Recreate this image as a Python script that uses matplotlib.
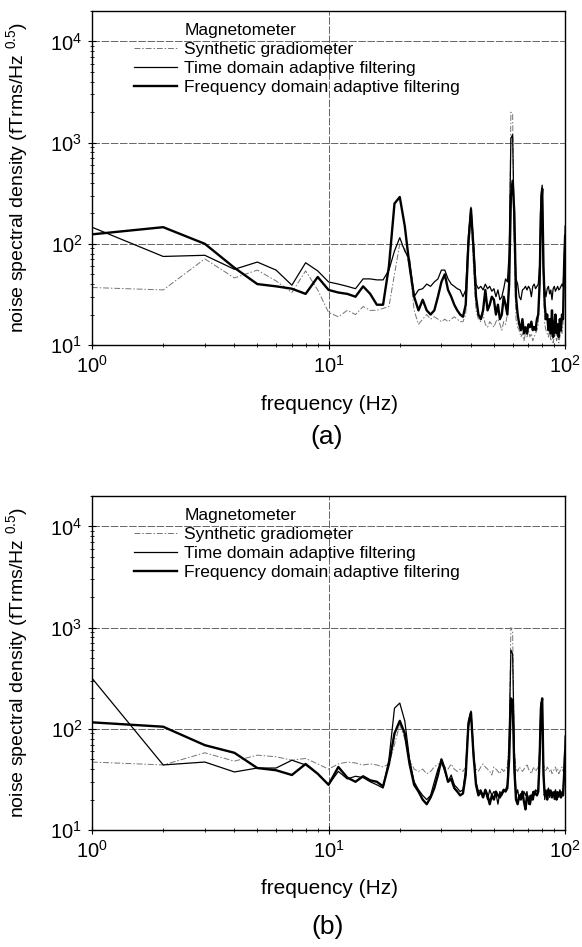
import numpy as np
import matplotlib
matplotlib.use("Agg")
import matplotlib.pyplot as plt

plt.rcParams['font.family'] = ['Liberation Sans', 'DejaVu Sans']
plt.rcParams['mathtext.fontset'] = 'custom'
plt.rcParams['mathtext.rm'] = 'Liberation Sans'
plt.rcParams['mathtext.it'] = 'Liberation Sans'

# frequência em Hz (resolução de 1 Hz)
freq = np.arange(1, 101)

# painel (a)
grad_a = [37, 35, 71, 46, 55, 43, 33, 54, 35, 21, 19, 22, 20, 24, 22, 22, 23, 24, 50, 100,
          90, 60, 22, 16, 18, 20, 18, 19, 18, 17, 18, 17, 18, 19, 18, 17, 17, 20, 80, 200,
          60, 22, 18, 17, 20, 16, 15, 17, 16, 15, 17, 18, 16, 14, 17, 16, 20, 60, 2000, 1900,
          80, 18, 15, 14, 12, 13, 11, 13, 12, 14, 12, 13, 11, 12, 13, 14, 16, 40, 250, 300,
          40, 16, 14, 13, 12, 14, 11, 13, 10.5, 12, 14, 11, 13, 10.5, 12, 14, 13, 16, 50, 100]
time_a = [146, 75, 77, 56, 66, 55, 39, 65, 54, 42, 40, 38, 36, 45, 45, 44, 44, 55, 85, 115,
          85, 70, 30, 35, 36, 40, 38, 42, 45, 55, 55, 45, 40, 38, 36, 35, 30, 35, 120, 230,
          100, 40, 36, 38, 35, 40, 36, 38, 34, 36, 30, 35, 28, 30, 36, 45, 42, 80, 1100, 1200,
          120, 45, 40, 30, 28, 35, 36, 38, 35, 38, 36, 30, 38, 40, 36, 38, 40, 60, 300, 380,
          50, 35, 30, 36, 38, 32, 35, 28, 36, 38, 34, 36, 38, 35, 36, 38, 40, 38, 60, 150]
fdom_a = [124, 146, 100, 58, 40, 38, 36, 32, 47, 35, 33, 32, 30, 38, 32, 25, 25, 60, 250, 290,
          150, 60, 30, 22, 28, 22, 20, 22, 30, 42, 50, 35, 30, 25, 22, 20, 19, 25, 100, 220,
          90, 30, 20, 18, 22, 35, 22, 25, 30, 28, 20, 25, 18, 20, 30, 25, 20, 40, 300, 420,
          200, 30, 20, 16, 14, 18, 13, 15, 13, 16, 15, 17, 14, 15, 14, 18, 20, 40, 200, 350,
          60, 25, 18, 20, 14, 18, 13, 22, 12, 15, 20, 13, 16, 12, 18, 14, 20, 18, 60, 120]

# painel (b)
grad_b = [47, 44, 58, 48, 55, 53, 49, 51, 45, 40, 45, 47, 46, 44, 45, 44, 42, 45, 70, 110,
          80, 50, 40, 38, 40, 36, 38, 42, 45, 44, 42, 40, 45, 40, 38, 40, 38, 42, 100, 130,
          50, 40, 38, 42, 45, 42, 40, 38, 35, 42, 40, 38, 36, 40, 38, 40, 42, 80, 1000, 900,
          60, 40, 38, 42, 40, 38, 40, 42, 45, 40, 38, 36, 40, 42, 38, 40, 42, 60, 150, 170,
          45, 40, 38, 42, 40, 38, 40, 36, 38, 40, 42, 38, 40, 36, 38, 40, 42, 38, 40, 50]
time_b = [317, 44, 47, 37.5, 41, 41, 49, 44, 36, 28, 38, 32, 34, 33, 30, 28, 26, 50, 160, 180,
          120, 50, 30, 25, 22, 20, 22, 30, 40, 48, 38, 30, 35, 28, 26, 24, 25, 40, 120, 150,
          60, 30, 24, 25, 22, 24, 20, 25, 22, 24, 23, 18, 24, 22, 24, 25, 28, 80, 600, 550,
          60, 22, 25, 20, 23, 21, 24, 22, 24, 18, 22, 20, 24, 22, 25, 24, 26, 60, 180, 190,
          40, 20, 25, 22, 26, 21, 25, 23, 24, 20, 25, 22, 24, 21, 25, 23, 24, 22, 40, 85]
fdom_b = [116, 105, 69, 58, 41, 39, 35, 45, 36, 28, 42, 33, 30, 34, 31, 30, 27, 45, 90, 120,
          90, 45, 28, 24, 20, 18, 21, 26, 35, 50, 40, 30, 32, 26, 24, 22, 23, 35, 110, 145,
          55, 28, 22, 24, 21, 25, 22, 18, 22, 20, 24, 22, 21, 23, 25, 24, 26, 50, 200, 190,
          40, 20, 18, 22, 20, 24, 19, 16, 22, 20, 18, 22, 20, 24, 23, 22, 24, 50, 160, 200,
          35, 22, 24, 20, 25, 22, 24, 21, 23, 22, 24, 20, 23, 22, 24, 21, 23, 22, 35, 60]

labels = ["Magnetometer", "Synthetic gradiometer",
          "Time domain adaptive filtering", "Frequency domain adaptive filtering"]

fig = plt.figure(figsize=(5.82, 9.47), dpi=100)

panels = [
    ([0.158, 0.6357, 0.813, 0.3527], grad_a, time_a, fdom_a, 405, 437, "(a)"),
    ([0.158, 0.1235, 0.813, 0.3527], grad_b, time_b, fdom_b, 888, 927, "(b)"),
]

for pos, grad, tdom, fdom, ylab_px, tag_px, tag in panels:
    ax = fig.add_axes(pos)
    ax.plot([], [], color='white', lw=1, label=labels[0])
    ax.plot(freq, grad, color='0.45', lw=0.7, ls=(0, (6, 2, 1.5, 2)), label=labels[1])
    ax.plot(freq, tdom, color='black', lw=0.9, label=labels[2])
    ax.plot(freq, fdom, color='black', lw=1.7, label=labels[3])

    ax.set_xscale('log')
    ax.set_yscale('log')
    ax.set_xlim(1, 100)
    ax.set_ylim(10, 2e4)
    ax.grid(True, which='major', color='0.3', lw=0.6, ls=(0, (9, 2)))
    ax.tick_params(which='both', direction='inout', labelsize=14.5, top=False, right=False)
    ax.tick_params(which='major', length=6, width=0.8, pad=4)
    ax.tick_params(which='minor', length=3.5, width=0.6)
    for s in ax.spines.values():
        s.set_linewidth(1.0)

    ax.legend(loc='upper left', bbox_to_anchor=(0.089, 0.965), frameon=False,
              fontsize=12.5, handlelength=2.5, handletextpad=0.4, labelspacing=0.22,
              borderpad=0, borderaxespad=0)

    fig.text(0.567, 1 - ylab_px / 947, "frequency (Hz)", ha='center', va='center', fontsize=15)
    fig.text(0.562, 1 - tag_px / 947, tag, ha='center', va='center', fontsize=19)
    yc = pos[1] + pos[3] / 2
    fig.text(17 / 582, yc, "noise spectral density (fTrms/Hz $^{0.5}$)",
             rotation=90, ha='center', va='center', fontsize=14)

fig.savefig("out.png", dpi=100)
